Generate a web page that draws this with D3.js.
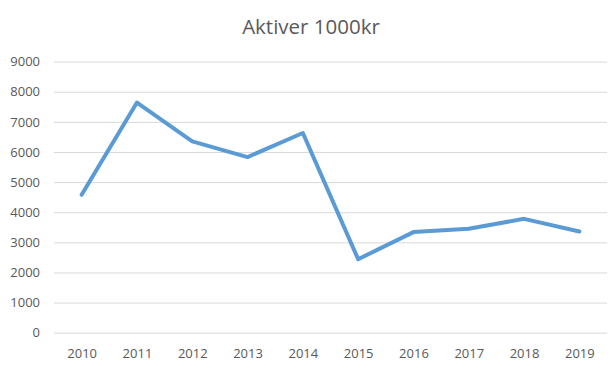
<!DOCTYPE html>
<html><head><meta charset="utf-8">
<script src="https://cdn.jsdelivr.net/npm/d3@7"></script>
<style>body{margin:0;background:#fff}svg{display:block}</style>
</head><body>
<svg id="c" width="616" height="367"></svg>
<script>
const years = ["2010","2011","2012","2013","2014","2015","2016","2017","2018","2019"];
const values = [4580, 7640, 6350, 5830, 6630, 2440, 3340, 3450, 3780, 3360];
const yTicks = [0,1000,2000,3000,4000,5000,6000,7000,8000,9000];
const title = "Aktiver 1000kr";

const svg = d3.select("#c");
const font = "'Open Sans', sans-serif";
const x = d3.scalePoint().domain(years).range([54, 607]).padding(0.5);
const y = d3.scaleLinear().domain([0, 9000]).range([332.7, 61.6]);

svg.append("text").attr("x", 311).attr("y", 33.5).attr("text-anchor","middle")
  .attr("font-family", font).attr("font-size", 20.5).attr("fill","#595959").text(title);

const gy = svg.append("g").attr("transform","translate(54,0)")
  .call(d3.axisLeft(y).tickValues(yTicks).tickSize(-553).tickPadding(14).tickFormat(d3.format("d")));
gy.select(".domain").remove();
gy.selectAll(".tick line").attr("stroke","#d9d9d9").attr("stroke-width",1);
gy.selectAll(".tick text").attr("font-family",font).attr("font-size",13).attr("fill","#595959");

const gx = svg.append("g").attr("transform","translate(0,332.7)")
  .call(d3.axisBottom(x).tickSize(0).tickPadding(16));
gx.select(".domain").remove();
gx.selectAll(".tick text").attr("font-family",font).attr("font-size",13).attr("fill","#595959");

svg.append("path").datum(values)
  .attr("d", d3.line().x((d,i)=>x(years[i])).y(d=>y(d)))
  .attr("fill","none").attr("stroke","#5B9BD5").attr("stroke-width",4)
  .attr("stroke-linejoin","round").attr("stroke-linecap","round");
</script>
</body></html>
